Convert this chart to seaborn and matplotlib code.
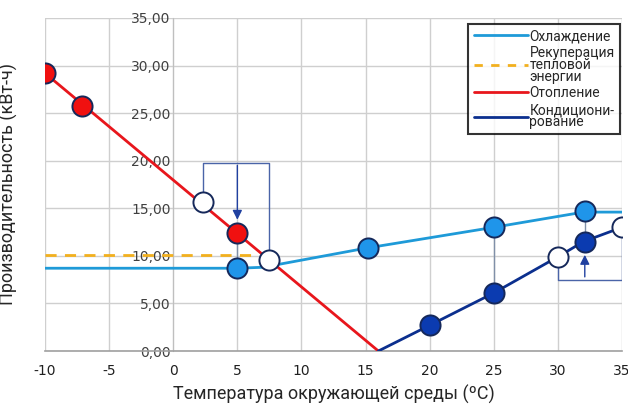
import numpy as np
import pandas as pd
import matplotlib
matplotlib.use("Agg")
import matplotlib.pyplot as plt
from matplotlib.lines import Line2D
import seaborn as sns

# данные
cool_x = [-10, 5, 7, 15, 25, 32, 35]
cool_y = [8.7, 8.7, 8.8, 10.8, 13.0, 14.6, 14.6]
recup_x = [-10, 6.5]
recup_y = [10.1, 10.1]
heat_x = [-10, 16]
heat_y = [29.2, 0.0]
ac_x = [16, 20, 25, 30, 32, 35]
ac_y = [0.0, 2.7, 6.1, 9.9, 11.5, 13.0]

red_pts_x = [-10, -7.1, 5]
red_pts_y = [29.2, 25.8, 12.4]
lblue_pts_x = [5, 15.2, 25, 32.1]
lblue_pts_y = [8.7, 10.8, 13.0, 14.7]
dblue_pts_x = [20, 25, 32.1]
dblue_pts_y = [2.7, 6.1, 11.5]
white_pts_x = [2.3, 7.5, 30, 35]
white_pts_y = [15.7, 9.6, 9.9, 13.0]

x_ticks = list(range(-10, 40, 5))
y_ticks = list(range(0, 40, 5))

LBLUE, RED, DBLUE, GOLD = "#1E9AD8", "#E8161C", "#0B2F8E", "#F2B01E"
EDGE = "#15285A"
ANN = "#4A64A8"
NARROW = ["Roboto", "DejaVu Sans"]

sns.set_style("white")
fig = plt.figure(figsize=(6.28, 4.05), dpi=100)
ax = fig.add_axes([0.0717, 0.1333, 0.9187, 0.8223])

ax.set_xlim(-10, 35)
ax.set_ylim(0, 35)
ax.set_xticks(x_ticks)
ax.set_yticks(y_ticks)
ax.grid(True, color="#CFCFCF", lw=1.0, zorder=0)

sns.lineplot(x=cool_x, y=cool_y, ax=ax, color=LBLUE, lw=2, zorder=3)
sns.lineplot(x=recup_x, y=recup_y, ax=ax, color=GOLD, lw=2, zorder=3,
             linestyle=(0, (4, 3)))
sns.lineplot(x=heat_x, y=heat_y, ax=ax, color=RED, lw=2, zorder=3)
sns.lineplot(x=ac_x, y=ac_y, ax=ax, color=DBLUE, lw=2, zorder=3)

# вспомогательные линии-пояснения
ann = dict(color=ANN, lw=1.0, zorder=2)
ax.plot([2.3, 2.3, 7.5, 7.5], [15.7, 19.8, 19.8, 9.6], **ann)
ax.plot([30, 30, 35, 35], [9.9, 7.5, 7.5, 13.0], **ann)
ax.plot([25, 25], [13.0, 6.1], color="#8090A8", lw=1.0, zorder=2)
ax.plot([5, 5], [8.7, 12.4], color="#8090A8", lw=1.0, zorder=2)
ax.plot([32.1, 32.1], [14.7, 11.5], color="#8090A8", lw=1.0, zorder=2)
ax.annotate("", xy=(5, 13.5), xytext=(5, 19.8),
            arrowprops=dict(arrowstyle="-|>", color="#2040A0", lw=1.0,
                            mutation_scale=14), zorder=4)
ax.annotate("", xy=(32.1, 10.4), xytext=(32.1, 7.5),
            arrowprops=dict(arrowstyle="-|>", color="#2040A0", lw=1.0,
                            mutation_scale=14), zorder=4)

mk = dict(s=210, edgecolor=EDGE, linewidth=1.4, zorder=5, ax=ax)
sns.scatterplot(x=red_pts_x, y=red_pts_y, color="#F01010", **mk)
sns.scatterplot(x=lblue_pts_x, y=lblue_pts_y, color="#1F95EA", **mk)
sns.scatterplot(x=dblue_pts_x, y=dblue_pts_y, color="#0B3BB0", **mk)
sns.scatterplot(x=white_pts_x, y=white_pts_y, color="white", **mk)

# ось Y проходит через x = 0
for s in ["top", "right"]:
    ax.spines[s].set_visible(False)
ax.spines["left"].set_position(("data", 0))
ax.spines["left"].set_color("#BFBFBF")
ax.spines["bottom"].set_color("#A0A0A0")
ax.spines["bottom"].set_linewidth(1.2)
ax.set_yticklabels([f"{v:.2f}".replace(".", ",") for v in y_ticks],
                   fontsize=10, color="#404040")
ax.set_xticklabels([str(v) for v in x_ticks], fontsize=10, color="#202020")
ax.tick_params(axis="y", length=0, pad=2)
ax.tick_params(axis="x", length=0, pad=9)
for lab in ax.get_yticklabels():
    lab.set_zorder(6)

ax.set_xlabel("Температура окружающей среды (ºC)", fontsize=13,
              family=NARROW, labelpad=5)
ax.set_ylabel("Производительность (кВт-ч)", fontsize=13, family=NARROW)
ax.yaxis.set_label_coords(-0.047, 0.5)

handles = [
    Line2D([], [], color=LBLUE, lw=2),
    Line2D([], [], color=GOLD, lw=2, linestyle=(0, (3, 3))),
    Line2D([], [], color=RED, lw=2),
    Line2D([], [], color=DBLUE, lw=2),
]
labels = ["Охлаждение", "Рекуперация\nтепловой\nэнергии", "Отопление",
          "Кондициони-\nрование"]
leg = ax.legend(handles, labels, loc="upper right",
                bbox_to_anchor=(0.997, 0.983), frameon=True, fancybox=False,
                prop={"family": NARROW, "size": 10}, handlelength=3.9,
                handletextpad=0.1, labelspacing=0.2, borderpad=0.4,
                borderaxespad=0)
leg.get_frame().set_edgecolor("black")
leg.get_frame().set_linewidth(1.5)
for t in leg.get_texts():
    t.set_linespacing(0.8)
leg.set_zorder(10)

fig.savefig("out.png", dpi=100, facecolor="white")
